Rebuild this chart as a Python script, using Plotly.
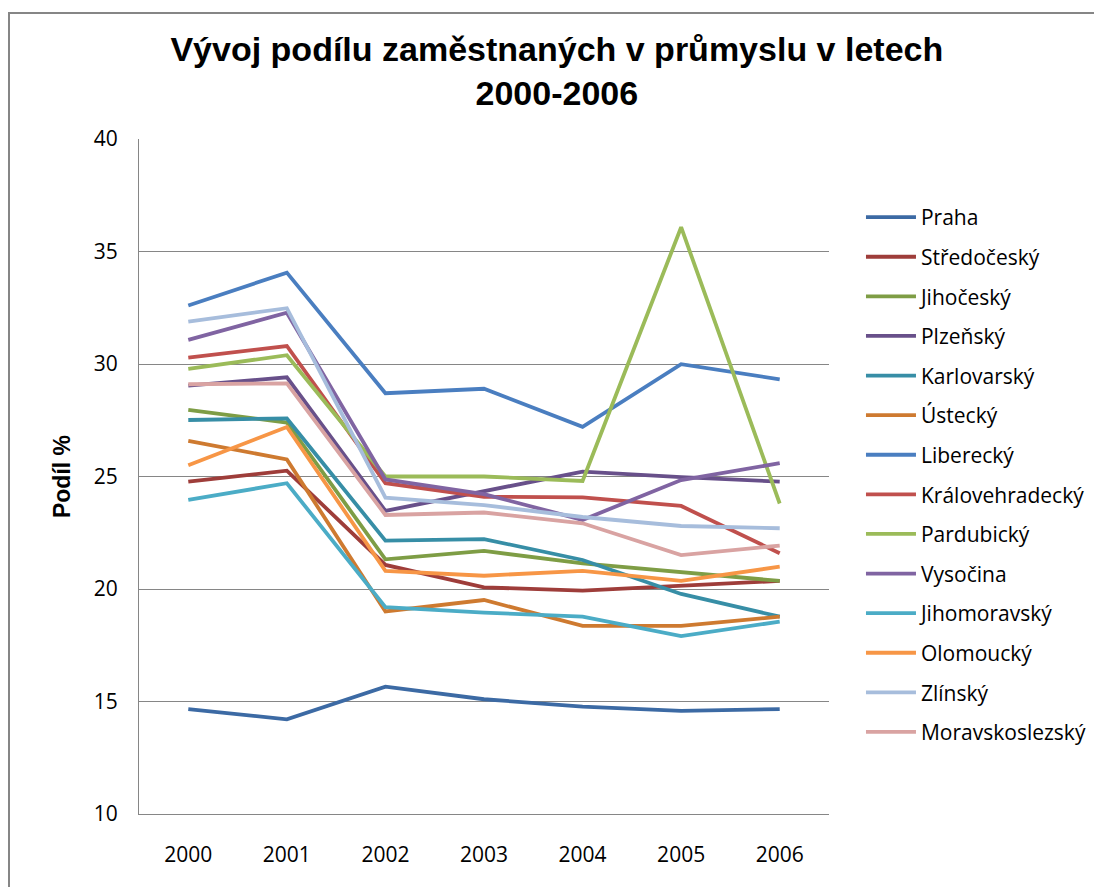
import plotly.graph_objects as go

years = [2000, 2001, 2002, 2003, 2004, 2005, 2006]

regions = ["Praha", "Středočeský", "Jihočeský", "Plzeňský", "Karlovarský", "Ústecký",
           "Liberecký", "Královehradecký", "Pardubický", "Vysočina", "Jihomoravský",
           "Olomoucký", "Zlínský", "Moravskoslezský"]

praha = [14.66, 14.21, 15.66, 15.10, 14.77, 14.58, 14.66]
stredocesky = [24.77, 25.26, 21.07, 20.07, 19.93, 20.13, 20.36]
jihocesky = [27.96, 27.40, 21.32, 21.69, 21.14, 20.75, 20.36]
plzensky = [29.04, 29.41, 23.47, 24.35, 25.22, 24.97, 24.77]
karlovarsky = [27.51, 27.58, 22.15, 22.22, 21.29, 19.78, 18.77]
ustecky = [26.58, 25.76, 19.00, 19.51, 18.36, 18.36, 18.77]
liberecky = [32.60, 34.06, 28.70, 28.90, 27.21, 29.99, 29.32]
kralovehradecky = [30.28, 30.80, 24.70, 24.10, 24.07, 23.69, 21.59]
pardubicky = [29.78, 30.39, 25.00, 25.00, 24.80, 36.08, 23.80]
vysocina = [31.07, 32.28, 24.87, 24.22, 23.07, 24.84, 25.59]
jihomoravsky = [23.96, 24.70, 19.19, 18.95, 18.77, 17.91, 18.55]
olomoucky = [25.50, 27.20, 20.81, 20.59, 20.81, 20.36, 20.99]
zlinsky = [31.88, 32.48, 24.06, 23.73, 23.20, 22.80, 22.70]
moravskoslezsky = [29.10, 29.14, 23.29, 23.40, 22.92, 21.51, 21.93]

series = [praha, stredocesky, jihocesky, plzensky, karlovarsky, ustecky, liberecky,
          kralovehradecky, pardubicky, vysocina, jihomoravsky, olomoucky, zlinsky,
          moravskoslezsky]

colors = ["#3C6AA4", "#9E3D3A", "#7E9D45", "#68508A", "#378EA6", "#CE7A30",
          "#4A7EC0", "#C0504D", "#9BBB59", "#8064A2", "#4BACC6", "#F79646",
          "#A7BDDC", "#D9A3A2"]

fig = go.Figure()
for name, vals, col in zip(regions, series, colors):
    fig.add_trace(go.Scatter(
        x=years, y=vals, name=name, mode="lines", legendgroup=name,
        line=dict(color=col, width=3.8),
    ))

fig.update_layout(
    width=1094, height=887,
    margin=dict(l=139, r=265, t=139, b=73),
    paper_bgcolor="white", plot_bgcolor="white",
    title=dict(
        text="Vývoj podílu zaměstnaných v průmyslu v letech<br>2000-2006",
        font=dict(family="Liberation Sans", size=34, color="black", weight="bold"),
        x=0.509, xref="container", xanchor="center",
        y=1 - 61 / 887, yref="container", yanchor="top",
    ),
    font=dict(family="Open Sans", color="black"),
    showlegend=True,
    legend=dict(
        xref="container", yref="paper",
        x=0.787, xanchor="left", y=(814 - 197) / 675, yanchor="top",
        font=dict(family="Open Sans", size=21, color="black"),
        itemwidth=50, tracegroupgap=9.3, traceorder="grouped",
        bgcolor="rgba(0,0,0,0)", maxheight=1,
    ),
    xaxis=dict(
        range=[1999.5, 2006.5], tickmode="array", tickvals=years,
        ticktext=[str(y) for y in years],
        showgrid=False, zeroline=False,
        showline=True, linecolor="#868686", linewidth=1,
        ticks="", ticklabelstandoff=22,
        tickfont=dict(family="Open Sans", size=21, color="black"),
    ),
    yaxis=dict(
        range=[10, 40], tickmode="array", tickvals=[10, 15, 20, 25, 30, 35, 40],
        showgrid=True, gridcolor="#868686", gridwidth=1,
        zeroline=False, showline=True, linecolor="#868686", linewidth=1,
        ticks="", ticklabelstandoff=16,
        tickfont=dict(family="Open Sans", size=21, color="black"),
        title=dict(text="Podíl %", standoff=16,
                   font=dict(family="Liberation Sans", size=23, color="black", weight="bold")),
    ),
    shapes=[dict(
        type="path", xref="paper", yref="paper",
        path="M -0.1884 -0.2 L -0.1884 1.1867 L 1.6 1.1867",
        line=dict(color="#868686", width=2),
    )],
)

fig.write_html("out.html", config={"displayModeBar": False},
               post_script="document.body.style.margin='0';document.body.style.padding='0';")
